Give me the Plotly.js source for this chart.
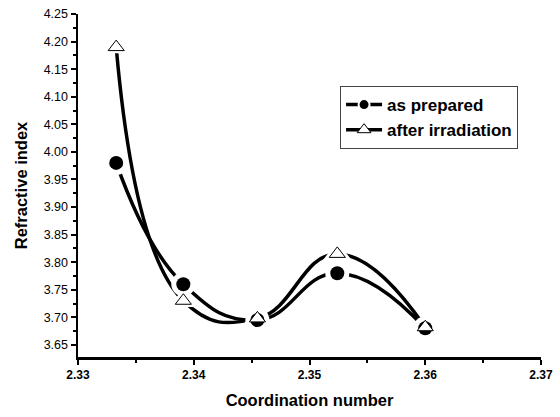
<!DOCTYPE html>
<html>
<head>
<meta charset="utf-8">
<script src="https://cdn.plot.ly/plotly-3.0.1.min.js"></script>
<style>html,body{margin:0;padding:0;background:#fff;}#chart{width:560px;height:417px;}</style>
</head>
<body>
<div id="chart"></div>
<script>
var coordination = [2.3333, 2.3391, 2.3455, 2.3524, 2.36];
var asPrepared = [3.98, 3.76, 3.695, 3.78, 3.68];
var afterIrradiation = [4.19, 3.73, 3.698, 3.815, 3.682];
var seriesNames = ["as prepared", "after irradiation"];
var xTicks = [2.33, 2.34, 2.35, 2.36, 2.37];

var FONT = "Liberation Sans, Arial, sans-serif";
var lineStyle = {color: "#000", width: 3.5, shape: "spline", smoothing: 1.3};
var traces = [
  {x: coordination, y: asPrepared, mode: "lines", line: lineStyle, showlegend: false, hoverinfo: "skip"},
  {x: coordination, y: afterIrradiation, mode: "lines", line: lineStyle, showlegend: false, hoverinfo: "skip"},
  {x: coordination, y: asPrepared, mode: "markers", marker: {symbol: "circle", size: 24, color: "#fff"}, showlegend: false, hoverinfo: "skip"},
  {x: coordination, y: afterIrradiation, mode: "markers", marker: {symbol: "triangle-up", size: 25, color: "#fff"}, showlegend: false, hoverinfo: "skip"},
  {x: coordination, y: asPrepared, mode: "markers", showlegend: false,
   marker: {symbol: "circle", size: 14, color: "#000", line: {width: 0}}},
  {x: coordination, y: afterIrradiation, mode: "markers", showlegend: false,
   marker: {symbol: "triangle-up", size: 14, color: "#fff", line: {color: "#000", width: 1}}},
  // legend entries only (no data drawn)
  {x: [null], y: [null], mode: "lines+markers", name: seriesNames[0],
   line: {color: "#000", width: 3.5},
   marker: {symbol: "circle", size: 11, color: "#000", line: {color: "#fff", width: 2}}},
  {x: [null], y: [null], mode: "lines+markers", name: seriesNames[1],
   line: {color: "#000", width: 3.5},
   marker: {symbol: "triangle-up", size: 12, color: "#fff", line: {color: "#000", width: 1}}}
];

var layout = {
  width: 560, height: 417,
  margin: {l: 78, r: 19, t: 14, b: 60},
  paper_bgcolor: "#fff", plot_bgcolor: "#fff",
  showlegend: true,
  legend: {
    x: 0.566, y: 0.79, xanchor: "left", yanchor: "top",
    bordercolor: "#444", borderwidth: 1, bgcolor: "#fff",
    font: {family: FONT, size: 17, color: "#000", weight: "bold"},
    tracegroupgap: 0, itemwidth: 36
  },
  xaxis: {
    range: [2.33, 2.37], tickmode: "array",
    tickvals: xTicks, ticktext: xTicks.map(function (v) { return v.toFixed(2); }),
    ticks: "outside", ticklen: 5, tickwidth: 2, tickcolor: "#000",
    minor: {dtick: 0.005, tick0: 2.33, ticks: "outside", ticklen: 3, tickwidth: 2, tickcolor: "#000"},
    showline: true, linewidth: 2.5, linecolor: "#000", showgrid: false, zeroline: false,
    tickfont: {family: FONT, size: 12, color: "#000", weight: "bold"},
    title: {text: "Coordination number", standoff: 14,
      font: {family: FONT, size: 16.5, color: "#000", weight: "bold"}}
  },
  yaxis: {
    range: [3.628, 4.25], tick0: 3.65, dtick: 0.05, tickformat: ".2f",
    ticks: "outside", ticklen: 5, tickwidth: 2, tickcolor: "#000",
    minor: {dtick: 0.025, tick0: 3.65, ticks: "outside", ticklen: 3, tickwidth: 2, tickcolor: "#000"},
    showline: true, linewidth: 2.5, linecolor: "#000", showgrid: false, zeroline: false,
    tickfont: {family: FONT, size: 12.5, color: "#000"},
    title: {text: "Refractive index", standoff: 12,
      font: {family: FONT, size: 16.5, color: "#000", weight: "bold"}}
  }
};

Plotly.newPlot("chart", traces, layout, {displayModeBar: false, staticPlot: true});
</script>
</body>
</html>
